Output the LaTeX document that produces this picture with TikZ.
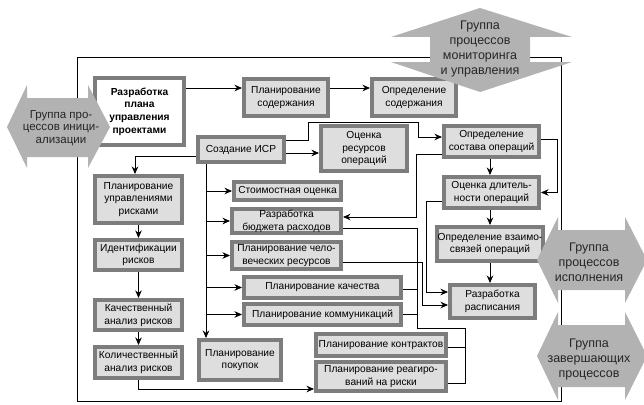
\documentclass[tikz,border=0pt]{standalone}
\usepackage{fontspec}
\setmainfont{Liberation Sans}
\usetikzlibrary{arrows.meta,calc}
\definecolor{bxgray}{RGB}{125,125,125}
\definecolor{bxfill}{RGB}{222,222,222}
\definecolor{grpgray}{RGB}{178,178,178}
\begin{document}
\begin{tikzpicture}[x=1pt,y=-1pt,
  box/.style={draw=bxgray, fill=bxfill, line width=4pt, inner sep=0pt, align=center,
    font=\fontsize{10.2}{12.7}\selectfont},
  arr/.style={line width=0.8pt, -{Stealth[length=7.5pt,width=6.5pt]}},
  ln/.style={line width=0.8pt},
  grp/.style={fill=grpgray, draw=none},
  grptext/.style={align=center, inner sep=0pt, text=black!85, font=\fontsize{12.5}{15}\selectfont}]
\useasboundingbox (0,0) rectangle (644,404);
\clip (0,0) rectangle (644,404);
% frame
\draw[line width=0.8pt] (77,57) rectangle (561,401);
% boxes
\node[box, fill=white, minimum width=89, minimum height=67, font=\fontsize{10.2}{12.7}\selectfont\bfseries] (A) at (139.5,111.5) {Разработка\\плана\\управления\\проектами};
\node[box, minimum width=84, minimum height=37] (B) at (286,97.5) {Планирование\\содержания};
\node[box, minimum width=84, minimum height=37] (C) at (414,97.5) {Определение\\содержания};
\node[box, minimum width=86, minimum height=25] (D) at (241,149.5) {Создание ИСР};
\node[box, minimum width=86, minimum height=45] (E) at (364,148.5) {Оценка\\ресурсов\\операций};
\node[box, minimum width=95, minimum height=31] (F) at (491.5,141.5) {Определение\\состава операций};
\node[box, minimum width=95, minimum height=31] (G) at (491.5,192.5) {Оценка длитель-\\ности операций};
\node[box, minimum width=106, minimum height=34] (H) at (490,244) {Определение взаимо-\\связей операций};
\node[box, minimum width=85, minimum height=33] (I) at (492.5,301.5) {Разработка\\расписания};
\node[box, minimum width=87, minimum height=47] (R1) at (138.5,199.5) {Планирование\\управлениями\\рисками};
\node[box, minimum width=87, minimum height=30] (R2) at (138.5,255) {Идентификации\\рисков};
\node[box, minimum width=87, minimum height=30] (R3) at (138.5,315) {Качественный\\анализ рисков};
\node[box, minimum width=87, minimum height=31] (R4) at (138.5,362.5) {Количественный\\анализ рисков};
\node[box, minimum width=107, minimum height=18] (S1) at (287.5,191) {Стоимостная оценка};
\node[box, minimum width=109, minimum height=24] (S2) at (286.5,221) {Разработка\\бюджета расходов};
\node[box, minimum width=109, minimum height=27] (S3) at (286.5,255.5) {Планирование чело-\\веческих ресурсов};
\node[box, minimum width=157, minimum height=21] (S4) at (322.5,287.5) {Планирование качества};
\node[box, minimum width=157, minimum height=21] (S5) at (322.5,314.5) {Планирование коммуникаций};
\node[box, minimum width=82, minimum height=40] (S6) at (240,360) {Планирование\\покупок};
\node[box, minimum width=130, minimum height=22] (S7) at (381,345) {Планирование контрактов};
\node[box, minimum width=130, minimum height=29] (S8) at (381,376.5) {Планирование реагиро-\\ваний на риски};
% connectors
\draw[arr] ([yshift=23.5pt]A.east) -- ([yshift=9.5pt]B.west);
\draw[arr] ([yshift=9.5pt]B.east) -- ([yshift=9.5pt]C.west);
\draw[arr] ([yshift=-3.5pt]D.east) -- ([yshift=-4.5pt]E.west);
\draw[arr] ([yshift=9.5pt]D.east) -- ++(22,0) |- (418,122) |- ([yshift=4.5pt]F.west);
\draw[arr] ([yshift=-6.5pt]D.west) -| ([xshift=-3.5pt]R1.north);
\draw[arr] ([xshift=-35pt]D.south) -- ([xshift=-34pt]S6.north);
\coordinate (T) at (206,0);
\draw[arr] (T |- S1.west) -- (S1.west);
\draw[arr] (T |- S2.west) -- (S2.west);
\draw[arr] (T |- S3.west) -- (S3.west);
\draw[arr] (T |- S4.west) -- (S4.west);
\draw[arr] (T |- S5.west) -- (S5.west);
\draw[arr] ([xshift=-1.5pt]F.south) -- ([xshift=-1.5pt]G.north);
\draw[arr] ([yshift=2.5pt]F.east) -- ++(16,0) |- (G.east);
\draw[arr] ([yshift=-12.5pt]F.west) -- ++(-26,0) |- ([yshift=4pt]S2.east);
\draw[arr] ([xshift=-1.5pt]G.south) -- (H.north);
\draw[arr] ([yshift=-8.5pt]G.west) -- ++(-16,0) |- ([yshift=9.5pt]I.west);
\draw[arr] (H.south) -- (H.south |- I.north);
\draw[arr] ([yshift=-6.5pt]S3.east) -- ++(79,0) |- ([yshift=-3.5pt]I.west);
\draw[ln] ([yshift=-7pt]S2.east) -- ++(74,0) -- ++(0,100) -- ++(48,0) |- ([yshift=-6.5pt]S8.east);
\draw[ln] ([yshift=-1.5pt]S4.east) -- ++(14,0);
\draw[ln] (S5.east) -- ++(14,0);
\draw[ln] ([yshift=-2pt]S7.east) -- ++(17,0);
\draw[arr] (R1.south) -- (R2.north);
\draw[arr] (R2.south) -- (R3.north);
\draw[arr] (R3.south) -- (R4.north);
\draw[arr] (R4.south) |- ([yshift=-12.5pt]S8.west);
% group arrows
\fill[grp] (7,127) -- (27,85) -- (27,98) -- (88,98) -- (88,85) -- (110,127) -- (88,168) -- (88,157) -- (27,157) -- (27,168) -- cycle;
\node[grptext, font=\fontsize{11.5}{12.5}\selectfont] (gi) at (61,128) {Группа про-\\цессов иници-\\ализации};
\fill[grp] (480,8) -- (572,37) -- (530,37) -- (530,62) -- (572,62) -- (480,92) -- (391,62) -- (430,62) -- (430,37) -- (391,37) -- cycle;
\node[grptext] (gm) at (480,49) {Группа\\процессов\\мониторинга\\и управления};
\fill[grp] (537,260) -- (558,217) -- (558,230) -- (625,230) -- (625,217) -- (647,260) -- (625,303) -- (625,290) -- (558,290) -- (558,303) -- cycle;
\node[grptext] (ge) at (589,262) {Группа\\процессов\\исполнения};
\fill[grp] (537,356) -- (558,312) -- (558,325) -- (625,325) -- (625,312) -- (647,356) -- (625,400) -- (625,387) -- (558,387) -- (558,400) -- cycle;
\node[grptext] (gc) at (589,359) {Группа\\завершающих\\процессов};
\end{tikzpicture}
\end{document}
